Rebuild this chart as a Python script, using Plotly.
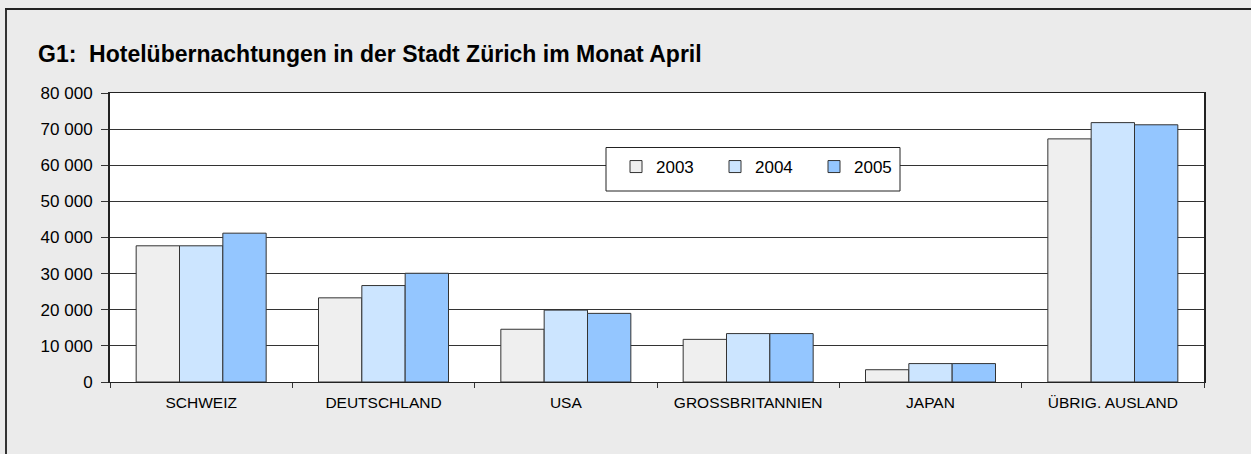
import plotly.graph_objects as go

categories = ["SCHWEIZ", "DEUTSCHLAND", "USA", "GROSSBRITANNIEN", "JAPAN", "ÜBRIG. AUSLAND"]
years = ["2003", "2004", "2005"]
v2003 = [37700, 23300, 14600, 11800, 3400, 67300]
v2004 = [37700, 26700, 19900, 13400, 5100, 71800]
v2005 = [41200, 30100, 19000, 13400, 5100, 71200]
colors = ["#EFEFEF", "#CCE5FF", "#94C6FF"]
y_ticks = [0, 10000, 20000, 30000, 40000, 50000, 60000, 70000, 80000]

W, H = 1251, 454
L, R, T, B = 110, 47, 93, 72
PW, PH = W - L - R, H - T - B

def px(x):
    return (x - L) / PW

def py(y):
    return (H - B - y) / PH

FONT = "Liberation Sans, Arial, sans-serif"

fig = go.Figure()
for name, vals, c in zip(years, [v2003, v2004, v2005], colors):
    fig.add_trace(go.Bar(
        x=categories, y=vals, name=name,
        marker=dict(color=c, line=dict(color="#333333", width=1)),
    ))

fig.update_layout(
    width=W, height=H,
    margin=dict(l=L, r=R, t=T, b=B),
    paper_bgcolor="#EBEBEB",
    plot_bgcolor="white",
    barmode="group", bargap=0.287, bargroupgap=0,
    separators=", ",
    font=dict(family=FONT, color="black"),
    title=dict(
        text="<b>G1:\u00a0\u00a0Hotelübernachtungen in der Stadt Zürich im Monat April</b>",
        font=dict(size=23, family=FONT, color="black"),
        xref="container", yref="container",
        x=38 / W, xanchor="left", y=1 - 54 / H, yanchor="middle",
    ),
    showlegend=True,
    legend=dict(
        orientation="h",
        x=px(616), y=py(167), xanchor="left", yanchor="middle",
        bgcolor="rgba(0,0,0,0)", borderwidth=0,
        font=dict(size=17, color="black"),
        entrywidth=54, entrywidthmode="pixels",
        itemwidth=30,
        traceorder="normal",
    ),
    xaxis=dict(
        type="category",
        tickson="boundaries",
        ticks="outside", ticklen=5, tickcolor="#333333",
        showline=True, linecolor="#222222", linewidth=1, mirror=True,
        tickfont=dict(size=15.5, color="black"),
        ticklabelstandoff=6,
        showgrid=False,
    ),
    yaxis=dict(
        range=[0, 80000],
        tickvals=y_ticks,
        tickformat=",d",
        ticks="outside", ticklen=7, tickcolor="#333333",
        showline=True, linecolor="#222222", linewidth=2, mirror=True,
        showgrid=True, gridcolor="#333333", gridwidth=1,
        tickfont=dict(size=17, color="black"),
        ticklabelstandoff=5,
        zeroline=False,
    ),
    shapes=[
        # legend box
        dict(type="rect", xref="paper", yref="paper",
             x0=px(606), x1=px(900), y0=py(191), y1=py(147.5),
             fillcolor="white", line=dict(color="#222222", width=1), layer="above"),
        # outer frame (left and top)
        dict(type="line", xref="paper", yref="paper",
             x0=px(6), x1=px(6), y0=py(H + 2), y1=py(9),
             line=dict(color="#333333", width=2)),
        dict(type="line", xref="paper", yref="paper",
             x0=px(5), x1=px(W + 2), y0=py(9), y1=py(9),
             line=dict(color="#222222", width=2)),
    ],
)

fig.write_html("out.html", config={"displayModeBar": False},
               post_script="document.body.style.margin='0';")
